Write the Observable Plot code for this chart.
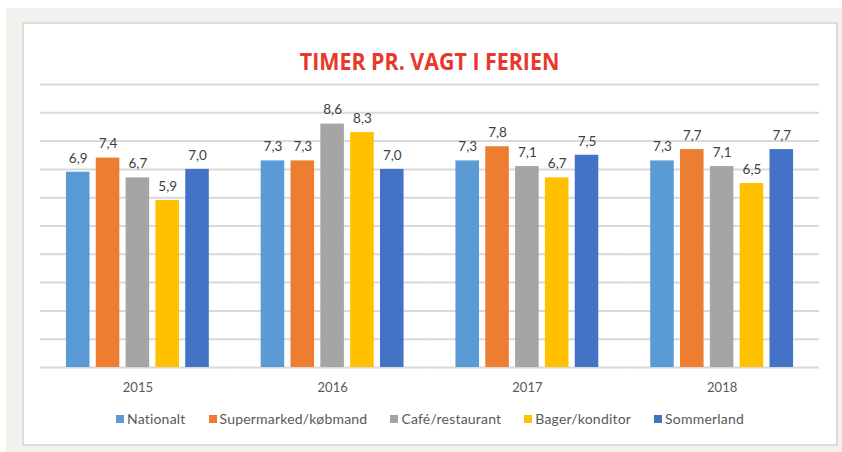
<!DOCTYPE html>
<html>
<head>
<meta charset="utf-8">
<script src="https://cdn.jsdelivr.net/npm/d3@7"></script>
<script src="https://cdn.jsdelivr.net/npm/@observablehq/plot@0.6"></script>
<style>
  html, body { margin: 0; padding: 0; background: #ffffff; }
  #page { position: relative; width: 842px; height: 452px; overflow: hidden; font-family: Lato, "Open Sans", sans-serif; }
  #outer { position: absolute; left: 6px; top: 8px; right: 0; bottom: 0; background: #f2f1ed; }
  #panel { position: absolute; left: 22px; top: 22px; width: 812px; height: 420px; background: #ffffff; border: 2px solid #dcdcdc; }
  #title { position: absolute; left: 22px; top: 45px; width: 816px; text-align: center; }
  #title span { display: inline-block; font-family: "Open Sans", sans-serif; font-weight: 700; font-size: 23.5px; color: #e8382c; transform: scaleX(0.91); }
  #chart { position: absolute; left: 0; top: 0; }
  #legend { position: absolute; left: 22px; top: 410px; width: 816px; display: flex; justify-content: center; gap: 23px; font-size: 14px; letter-spacing: 0.2px; color: #595959; }
  #legend .item { display: flex; align-items: center; }
  #legend .sw { width: 8px; height: 8px; margin-right: 3px; display: inline-block; }
</style>
</head>
<body>
<div id="page">
  <div id="outer"></div>
  <div id="panel"></div>
  <div id="title"><span>TIMER PR. VAGT I FERIEN</span></div>
  <div id="chart"></div>
  <div id="legend"></div>
</div>
<script>
const years = ["2015", "2016", "2017", "2018"];
const series = ["Nationalt", "Supermarked/købmand", "Café/restaurant", "Bager/konditor", "Sommerland"];
const colors = ["#5b9bd5", "#ed7d31", "#a5a5a5", "#ffc000", "#4472c4"];
const nationalt = [6.9, 7.3, 7.3, 7.3];
const supermarked = [7.4, 7.3, 7.8, 7.7];
const cafe = [6.7, 8.6, 7.1, 7.1];
const bager = [5.9, 8.3, 6.7, 6.5];
const sommerland = [7.0, 7.0, 7.5, 7.7];
const gridTicks = [0, 1, 2, 3, 4, 5, 6, 7, 8, 9, 10];

const valuesBySeries = [nationalt, supermarked, cafe, bager, sommerland];
const data = [];
years.forEach((y, i) => {
  series.forEach((s, j) => {
    data.push({year: y, series: s, value: valuesBySeries[j][i]});
  });
});

const chart = Plot.plot({
  width: 842,
  height: 400,
  marginLeft: 40,
  marginRight: 23,
  marginTop: 84,
  marginBottom: 33,
  style: {fontFamily: "Lato, 'Open Sans', sans-serif", background: "transparent"},
  fx: {domain: years, padding: 0, round: false, label: null},
  x: {domain: series, paddingInner: 0.21, paddingOuter: 0.87, round: false, axis: null},
  y: {domain: [0, 10], axis: null},
  color: {domain: series, range: colors},
  marks: [
    Plot.ruleY(gridTicks, {stroke: "#d9d9d9", strokeWidth: 2}),
    Plot.barY(data, {fx: "year", x: "series", y: "value", fill: "series"}),
    Plot.text(data, {fx: "year", x: "series", y: "value", text: d => d.value.toFixed(1).replace(".", ","), dy: -14, fontSize: 13.5, fill: "#404040"}),
    Plot.axisFx({anchor: "bottom", tickSize: 0, tickPadding: 15, fontSize: 13, fill: "#595959", label: null})
  ]
});
document.getElementById("chart").appendChild(chart);

const legend = document.getElementById("legend");
series.forEach((s, i) => {
  const item = document.createElement("div");
  item.className = "item";
  const sw = document.createElement("span");
  sw.className = "sw";
  sw.style.background = colors[i];
  const t = document.createElement("span");
  t.textContent = s;
  item.appendChild(sw);
  item.appendChild(t);
  legend.appendChild(item);
});
</script>
</body>
</html>
